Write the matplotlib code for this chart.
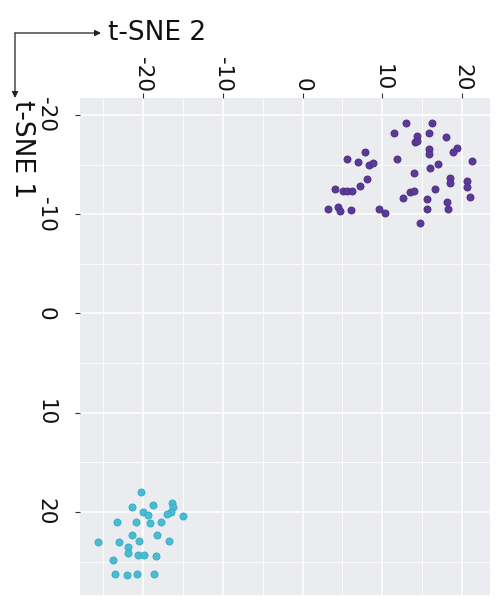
import matplotlib
matplotlib.use("Agg")
import matplotlib.pyplot as plt
import numpy as np

# t-SNE coordinates (t-SNE 2 on horizontal top axis, t-SNE 1 on vertical axis)
purple_tsne2 = [12.98, 16.24, 11.43, 14.32, 15.90, 17.95, 14.10, 14.40, 15.82, 15.82,
                19.42, 18.91, 7.84, 5.54, 6.92, 11.80, 8.34, 8.88, 21.20, 17.03,
                15.99, 14.02, 8.05, 18.50, 18.50, 20.59, 20.59, 4.08, 5.04, 5.54,
                6.25, 7.21, 16.61, 13.48, 13.98, 12.64, 15.57, 21.00, 3.24, 4.49,
                4.70, 6.08, 9.59, 10.34, 15.57, 18.16, 18.28, 14.73]
purple_tsne1 = [-19.16, -19.16, -18.16, -17.88, -18.16, -17.75, -17.31, -17.40, -16.54, -16.04,
                -16.70, -16.30, -16.30, -15.53, -15.30, -15.53, -14.96, -15.13, -15.40, -15.03,
                -14.63, -14.13, -13.55, -13.62, -13.12, -13.38, -12.78, -12.54, -12.34, -12.34,
                -12.34, -12.85, -12.51, -12.27, -12.34, -11.67, -11.54, -11.70, -10.50, -10.76,
                -10.36, -10.43, -10.50, -10.10, -10.53, -11.27, -10.50, -9.09]

cyan_tsne2 = [-20.25, -21.42, -18.71, -16.32, -16.20, -16.49, -17.03, -20.04, -19.41, -14.95,
              -23.22, -20.92, -19.12, -17.74, -21.42, -18.28, -22.97, -20.50, -16.70, -25.68,
              -21.84, -21.92, -20.59, -19.84, -18.41, -23.72, -23.51, -22.04, -20.79, -18.58]
cyan_tsne1 = [17.95, 19.46, 19.29, 19.06, 19.53, 19.97, 20.20, 19.97, 20.30, 20.40,
              20.98, 20.98, 21.14, 20.98, 22.32, 22.32, 22.99, 22.89, 22.89, 22.99,
              23.56, 24.10, 24.33, 24.33, 24.43, 24.84, 26.25, 26.35, 26.28, 26.28]

tick_values = [-20, -10, 0, 10, 20]
tick_labels = ["-20", "-10", "0", "10", "20"]
minor_values = [-25, -15, -5, 5, 15, 25]

W, H = 501, 597
fig = plt.figure(figsize=(W / 100, H / 100), dpi=100)
fig.patch.set_facecolor("white")

ax = fig.add_axes([80 / W, (H - 595) / H, 410 / W, 497 / H])
ax.set_facecolor("#EBECEF")
for sp in ax.spines.values():
    sp.set_visible(False)

ax.set_xticks(tick_values)
ax.set_xticklabels(tick_labels)
ax.set_yticks(tick_values)
ax.set_yticklabels(tick_labels)
ax.set_xticks(minor_values, minor=True)
ax.set_yticks(minor_values, minor=True)
ax.xaxis.tick_top()

ax.grid(which="major", color="white", lw=1.2)
ax.grid(which="minor", color="white", lw=0.6)
ax.set_axisbelow(True)

ax.tick_params(axis="x", which="major", top=True, bottom=False, length=3.5, width=0.8,
               color="#333333", pad=1.0, labelsize=15.5, labelcolor="#111111",
               labelrotation=-90)
ax.tick_params(axis="y", which="major", length=3.5, width=0.8, color="#333333",
               pad=14, labelsize=15.5, labelcolor="#111111", labelrotation=-90)
ax.tick_params(which="minor", length=0)
for lab in ax.get_yticklabels():
    lab.set_verticalalignment("center")
    lab.set_horizontalalignment("right")

ax.scatter(purple_tsne2, purple_tsne1, s=26, c="#5A3A96", edgecolors="#4A2C84",
           linewidths=0.6, zorder=3)
ax.scatter(cyan_tsne2, cyan_tsne1, s=26, c="#48BCD2", edgecolors="#38A8C0",
           linewidths=0.6, zorder=3)

# limits set last so tick placement does not expand them
ax.set_xlim(-27.9, 23.5)
ax.set_ylim(28.36, -21.71)

# axis titles with corner arrows
def fp(x, y):
    return (x / W, 1 - y / H)

fig.text(*fp(108, 33), "t-SNE 2", fontsize=19, color="#111111",
         ha="left", va="center")
fig.text(*fp(22, 100), "t-SNE 1", fontsize=19, color="#111111",
         ha="center", va="top", rotation=-90)

arrow_kw = dict(arrowstyle="-|>", color="#222222", lw=0.9, mutation_scale=9,
                shrinkA=0, shrinkB=0)
fig.add_artist(matplotlib.patches.FancyArrowPatch(
    fp(15, 33), fp(101, 33), transform=fig.transFigure, **arrow_kw))
fig.add_artist(matplotlib.patches.FancyArrowPatch(
    fp(15, 33), fp(15, 98), transform=fig.transFigure, **arrow_kw))

fig.savefig("out.png", dpi=100)
